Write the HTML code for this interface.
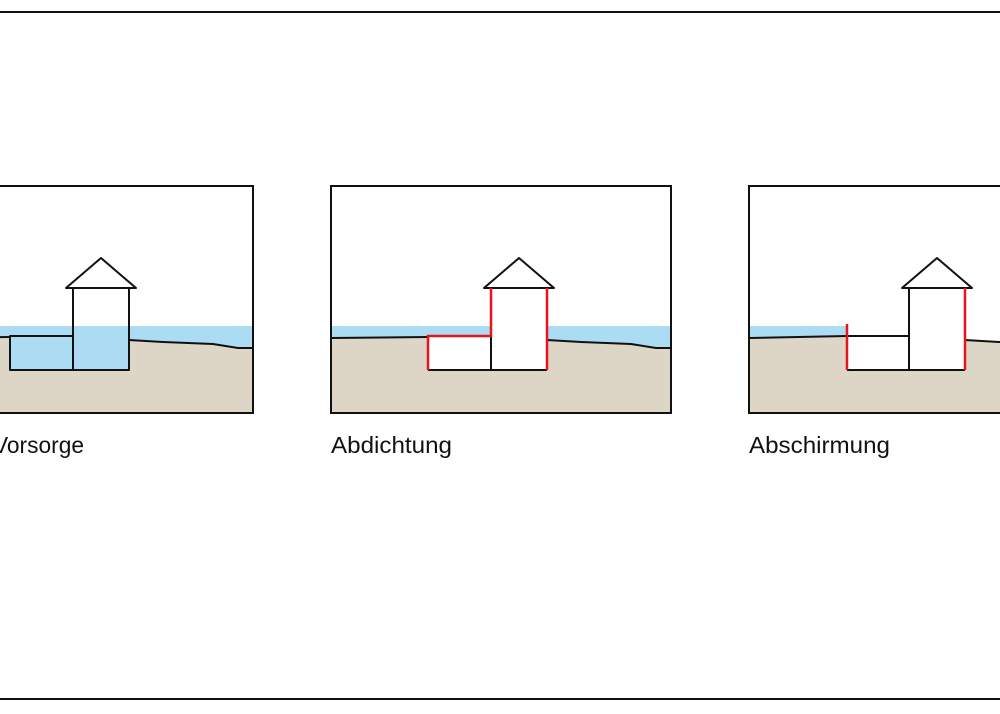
<!DOCTYPE html>
<html><head><meta charset="utf-8"><style>
html,body{margin:0;padding:0;background:#fff}
svg{display:block}
text{font-family:"Liberation Sans",Arial,sans-serif;font-size:23px;fill:#111}
</style></head><body>
<svg width="1000" height="714" viewBox="0 0 1000 714" xmlns="http://www.w3.org/2000/svg">
<line x1="0" y1="12" x2="1000" y2="12" stroke="#111" stroke-width="2"/>
<line x1="0" y1="699" x2="1000" y2="699" stroke="#111" stroke-width="2"/>
<defs>
<clipPath id="c"><rect x="0" y="0" width="340" height="227"/></clipPath>
</defs>
<!-- Panel 1 -->
<g transform="translate(-87,186)">
 <g clip-path="url(#c)">
  <rect x="0" y="140" width="340" height="30" fill="#acdcf4"/>
  <path d="M0 152 L97 151 L97 184 L216 184 L216 154 L250 156 L300 158 L325 162 L340 162 L340 227 L0 227 Z" fill="#ddd5c6"/>
  <path d="M0 152 L97 151 M216 154 L250 156 L300 158 L325 162 L340 162" fill="none" stroke="#111" stroke-width="2"/>
  <rect x="97" y="150" width="63" height="34" fill="#acdcf4"/>
  <rect x="160" y="140" width="56" height="44" fill="#acdcf4"/>
 </g>
 <path d="M97 150 L160 150 L160 184 L97 184 Z M160 102 L216 102 L216 184 L160 184 Z M153 102 L188 72 L223 102 Z" fill="none" stroke="#111" stroke-width="2" stroke-linejoin="round"/>
 <rect x="0" y="0" width="340" height="227" fill="none" stroke="#111" stroke-width="2"/>
 <text x="80" y="267" textLength="91" lengthAdjust="spacingAndGlyphs">Vorsorge</text>
</g>
<!-- Panel 2 -->
<g transform="translate(331,186)">
 <g clip-path="url(#c)">
  <rect x="0" y="140" width="340" height="30" fill="#acdcf4"/>
  <path d="M0 152 L97 151 L97 184 L216 184 L216 154 L250 156 L300 158 L325 162 L340 162 L340 227 L0 227 Z" fill="#ddd5c6"/>
  <path d="M0 152 L97 151 M216 154 L250 156 L300 158 L325 162 L340 162" fill="none" stroke="#111" stroke-width="2"/>
  <rect x="97" y="150" width="119" height="34" fill="#fff"/>
  <rect x="160" y="102" width="56" height="82" fill="#fff"/>
 </g>
 <path d="M97 184 L216 184 M160 150 L160 184 M153 102 L188 72 L223 102 Z" fill="none" stroke="#111" stroke-width="2" stroke-linejoin="round"/>
 <path d="M97 184 L97 150 L160 150 L160 102 M216 102 L216 184" fill="none" stroke="#e8141b" stroke-width="2.5"/>
 <rect x="0" y="0" width="340" height="227" fill="none" stroke="#111" stroke-width="2"/>
 <text x="0" y="267" textLength="121" lengthAdjust="spacingAndGlyphs">Abdichtung</text>
</g>
<!-- Panel 3 -->
<g transform="translate(749,186)">
 <g clip-path="url(#c)">
  <rect x="0" y="140" width="98" height="14" fill="#acdcf4"/>
  <path d="M0 152 L98 150 L98 184 L216 184 L216 154 L250 156 L300 158 L325 162 L340 162 L340 227 L0 227 Z" fill="#ddd5c6"/>
  <path d="M0 152 L98 150 M216 154 L250 156 L300 158 L325 162 L340 162" fill="none" stroke="#111" stroke-width="2"/>
 </g>
 <path d="M98 150 L160 150 M98 184 L216 184 M160 184 L160 102 L216 102 M153 102 L188 72 L223 102 Z" fill="none" stroke="#111" stroke-width="2" stroke-linejoin="round"/>
 <path d="M98 138 L98 184 M216 102 L216 184" fill="none" stroke="#e8141b" stroke-width="2.5"/>
 <rect x="0" y="0" width="340" height="227" fill="none" stroke="#111" stroke-width="2"/>
 <text x="0" y="267" textLength="141" lengthAdjust="spacingAndGlyphs">Abschirmung</text>
</g>
</svg>
</body></html>
